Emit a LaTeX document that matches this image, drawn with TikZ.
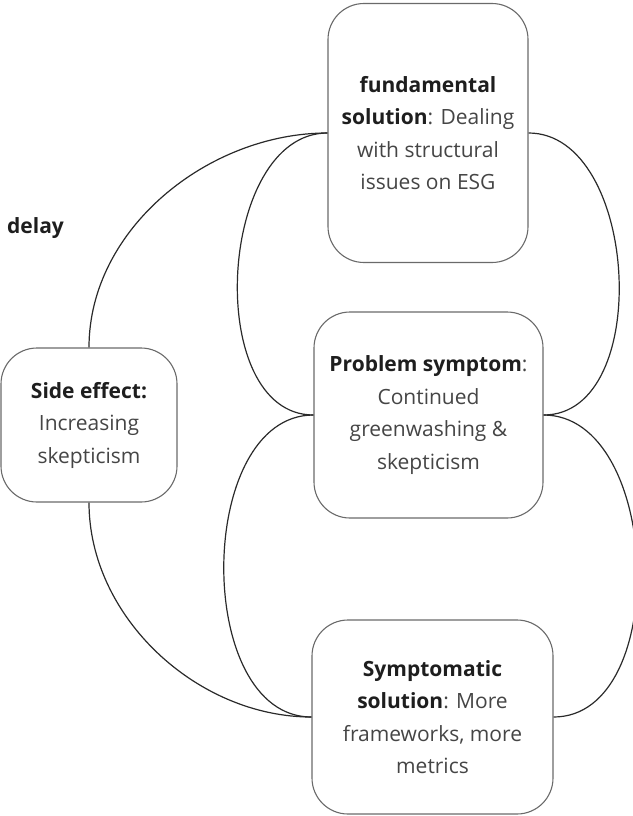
\documentclass[tikz,border=0pt]{standalone}
\usepackage{fontspec}
\setmainfont{Open Sans}
\definecolor{boxline}{HTML}{6A6A6A}
\definecolor{bodytext}{HTML}{454545}
\definecolor{headtext}{HTML}{1E1E1E}
\definecolor{linkcol}{HTML}{2A2A2A}
\newcommand{\hd}[1]{\textbf{\color{headtext}#1}}
\begin{document}
\begin{tikzpicture}[x=1pt,y=-1pt,
  box/.style={draw=boxline, line width=1.1pt, rounded corners=36pt,
    align=center, inner sep=0pt, text=bodytext,
    font=\fontsize{21}{32.5}\selectfont},
  link/.style={draw=linkcol, line width=1.2pt}]
\useasboundingbox (0,0) rectangle (632,816);

% the four boxes of the loop diagram
\node[box, minimum width=200pt, minimum height=259pt] (fund) at (428,133)
  {\hd{fundamental}\\\hd{solution}: Dealing\\with structural\\issues on ESG};
\node[box, minimum width=229pt, minimum height=206pt] (symp) at (428.5,415)
  {\hd{Problem symptom}:\\Continued\\greenwashing \&\\skepticism};
\node[box, minimum width=241pt, minimum height=194pt] (sol) at (432.5,717)
  {\hd{Symptomatic}\\\hd{solution}: More\\frameworks, more\\metrics};
\node[box, minimum width=176pt, minimum height=154pt] (side) at (89,425)
  {\hd{Side effect:}\\Increasing\\skepticism};

\node[font=\fontsize{21}{25}\selectfont, anchor=west, inner sep=0pt] (delay) at (7,228)
  {\hd{delay}};

% connectors
\draw[link] (fund.west) to[out=180, in=90, looseness=0.95] (side.north);
\draw[link] (side.south) to[out=-90, in=180, looseness=0.95] (sol.west);
\draw[link] (fund.west) to[out=180, in=180, looseness=1.0] (symp.west);
\draw[link] (fund.east) to[out=0, in=0, looseness=1.0] (symp.east);
\draw[link] (symp.west) to[out=180, in=180, looseness=1.0] (sol.west);
\draw[link] (symp.east) to[out=0, in=0, looseness=1.0] (sol.east);
\end{tikzpicture}
\end{document}
